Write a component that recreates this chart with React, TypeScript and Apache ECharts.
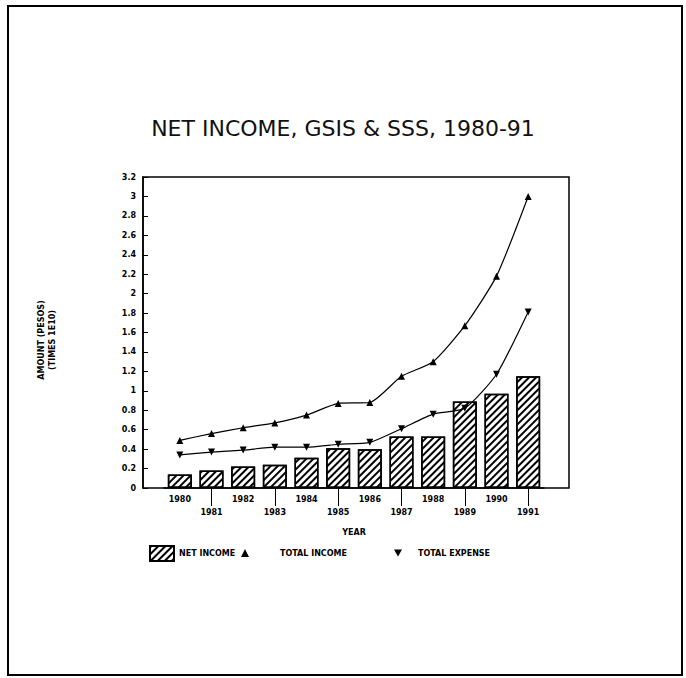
import React, { useEffect, useRef } from 'react';
import * as echarts from 'echarts';

const years = ['1980', '1981', '1982', '1983', '1984', '1985', '1986', '1987', '1988', '1989', '1990', '1991'];
const netIncome = [0.14, 0.18, 0.22, 0.24, 0.31, 0.41, 0.4, 0.53, 0.53, 0.89, 0.97, 1.15];
const totalIncome = [0.49, 0.56, 0.62, 0.67, 0.75, 0.87, 0.88, 1.15, 1.3, 1.67, 2.18, 3.0];
const totalExpense = [0.34, 0.37, 0.39, 0.42, 0.42, 0.45, 0.47, 0.61, 0.76, 0.82, 1.17, 1.81];

const FONT = 'DejaVu Sans';
const INV_TRI = 'path://M0,0 L10,0 L5,9 Z';

export default function App() {
  const ref = useRef<HTMLDivElement>(null);
  useEffect(() => {
    const chart = echarts.init(ref.current!, null, { renderer: 'svg' });
    const hatch = {
      symbol: 'rect',
      symbolSize: 1,
      dashArrayX: [1, 0],
      dashArrayY: [2, 3],
      rotation: -Math.PI / 4,
      color: '#000',
      backgroundColor: '#fff',
    };
    const lblStyle = { fontFamily: FONT, fontSize: 8, fontWeight: 'bold', color: '#000' };
    chart.setOption({
      animation: false,
      backgroundColor: '#fff',
      title: {
        text: 'NET INCOME, GSIS & SSS, 1980-91',
        left: 'center',
        top: 112,
        textStyle: { fontFamily: FONT, fontSize: 22, fontWeight: 'normal', color: '#111' },
      },
      grid: { left: 164, right: 142, top: 177, bottom: 190 },
      xAxis: [
        {
          type: 'category',
          data: years,
          axisLine: { show: true, lineStyle: { color: '#000', width: 1.5 } },
          axisTick: { show: false },
          axisLabel: { ...lblStyle, margin: 7, interval: (i: number) => i % 2 === 0 },
          name: 'YEAR',
          nameLocation: 'middle',
          nameGap: 40,
          nameTextStyle: lblStyle,
        },
        {
          type: 'category',
          data: years,
          position: 'bottom',
          axisLine: { show: false },
          axisTick: {
            show: true,
            alignWithLabel: true,
            length: 18,
            interval: (i: number) => i % 2 === 1,
            lineStyle: { color: '#000', width: 1 },
          },
          axisLabel: { ...lblStyle, margin: 20, interval: (i: number) => i % 2 === 1 },
        },
      ],
      yAxis: {
        type: 'value',
        min: 0,
        max: 3.2,
        interval: 0.2,
        offset: 21,
        axisLine: { show: true, lineStyle: { color: '#000', width: 1.5 } },
        axisTick: { show: true, inside: true, length: 5, lineStyle: { color: '#000' } },
        axisLabel: { ...lblStyle, margin: 7 },
        splitLine: { show: false },
      },
      legend: [
        {
          data: [{ name: 'NET INCOME', icon: 'rect' }],
          left: 144,
          top: 540,
          itemWidth: 24,
          itemHeight: 15,
          textStyle: lblStyle,
        },
        {
          data: [{ name: 'TOTAL INCOME', icon: 'triangle' }],
          left: 236,
          top: 544,
          itemWidth: 8,
          itemHeight: 8,
          textStyle: { ...lblStyle, padding: [0, 0, 0, 26] },
        },
        {
          data: [{ name: 'TOTAL EXPENSE', icon: INV_TRI }],
          left: 389,
          top: 544,
          itemWidth: 8,
          itemHeight: 8,
          textStyle: { ...lblStyle, padding: [0, 0, 0, 11] },
        },
      ],
      series: [
        {
          name: 'NET INCOME',
          type: 'bar',
          data: netIncome,
          barWidth: 24,
          itemStyle: { color: '#fff', borderColor: '#000', borderWidth: 1.5, decal: hatch },
        },
        {
          name: 'TOTAL INCOME',
          type: 'line',
          data: totalIncome,
          smooth: 0.2,
          symbol: 'triangle',
          symbolSize: 7,
          lineStyle: { color: '#000', width: 1.2 },
          itemStyle: { color: '#000' },
        },
        {
          name: 'TOTAL EXPENSE',
          type: 'line',
          data: totalExpense,
          smooth: 0.2,
          symbol: INV_TRI,
          symbolSize: 7,
          lineStyle: { color: '#000', width: 1.2 },
          itemStyle: { color: '#000' },
        },
      ],
      graphic: [
        {
          type: 'rect',
          shape: { x: 8, y: 6, width: 674, height: 669 },
          style: { fill: 'none', stroke: '#000', lineWidth: 2 },
          silent: true,
        },
        {
          type: 'rect',
          shape: { x: 143, y: 177, width: 426, height: 311 },
          style: { fill: 'none', stroke: '#000', lineWidth: 1.5 },
          silent: true,
        },
        {
          type: 'text',
          x: 47,
          y: 340,
          rotation: Math.PI / 2,
          style: {
            text: 'AMOUNT (PESOS)\n(TIMES 1E10)',
            fontFamily: FONT,
            fontSize: 8,
            fontWeight: 'bold',
            fill: '#000',
            align: 'center',
            verticalAlign: 'middle',
            lineHeight: 11,
          },
          silent: true,
        },
      ],
    });
    return () => chart.dispose();
  }, []);
  return (
    <div
      ref={ref}
      style={{ position: 'fixed', left: 0, top: 0, width: 686, height: 678, background: '#fff' }}
    />
  );
}
